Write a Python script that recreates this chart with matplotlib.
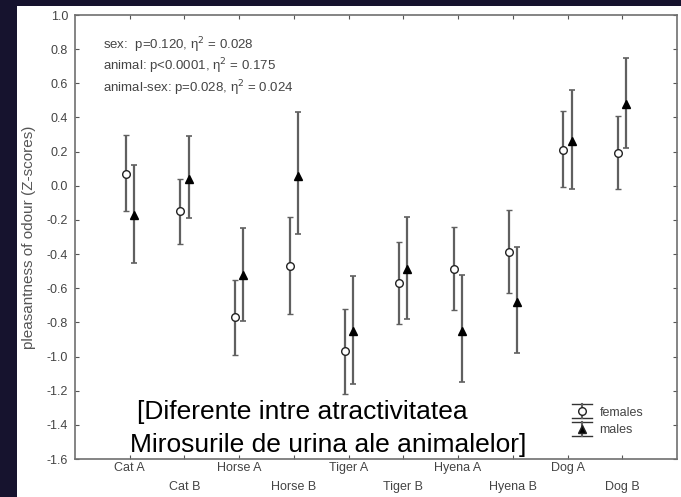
import numpy as np
import matplotlib.pyplot as plt
from matplotlib.lines import Line2D
from matplotlib.patches import Rectangle

plt.rcParams['font.family'] = ['Liberation Sans', 'DejaVu Sans']

# Data (means and error-bar ends)
animals = ['Cat A', 'Cat B', 'Horse A', 'Horse B', 'Tiger A',
           'Tiger B', 'Hyena A', 'Hyena B', 'Dog A', 'Dog B']
fem_mean = [0.07, -0.15, -0.77, -0.47, -0.97, -0.57, -0.49, -0.39, 0.21, 0.19]
fem_lo = [-0.15, -0.34, -0.99, -0.75, -1.22, -0.81, -0.73, -0.63, -0.01, -0.02]
fem_hi = [0.30, 0.04, -0.55, -0.18, -0.72, -0.33, -0.24, -0.14, 0.44, 0.41]
male_mean = [-0.17, 0.04, -0.52, 0.06, -0.85, -0.49, -0.85, -0.68, 0.26, 0.48]
male_lo = [-0.45, -0.19, -0.79, -0.28, -1.16, -0.78, -1.15, -0.98, -0.02, 0.22]
male_hi = [0.12, 0.29, -0.25, 0.43, -0.53, -0.18, -0.52, -0.36, 0.56, 0.75]

stats_lines = ['sex:  p=0.120, η$^2$ = 0.028',
               'animal: p<0.0001, η$^2$ = 0.175',
               'animal-sex: p=0.028, η$^2$ = 0.024']

bar_col = '#606060'
txt_col = '#444444'


class ErrHandler:
    # legend icon: caps at top and bottom, vertical bar, marker in middle
    def legend_artist(self, legend, orig_handle, fontsize, handlebox):
        x0, y0 = -handlebox.xdescent, -handlebox.ydescent
        w, h = handlebox.width, handlebox.height
        mk, fc = orig_handle
        t = handlebox.get_transform()
        arts = [
            Line2D([x0, x0 + w], [y0 + h + 2, y0 + h + 2], color='#333333', lw=1.0, transform=t),
            Line2D([x0, x0 + w], [y0 - 2, y0 - 2], color='#333333', lw=1.0, transform=t),
            Line2D([x0 + w / 2, x0 + w / 2], [y0 - 2, y0 + h + 2], color=bar_col, lw=1.5, transform=t),
            Line2D([x0 + w / 2], [y0 + h / 2], marker=mk, ms=5.5, mfc=fc, mec='#222222',
                   mew=1.0, ls='none', transform=t),
        ]
        for a in arts:
            handlebox.add_artist(a)
        return arts[-1]


fig = plt.figure(figsize=(6.81, 4.97), dpi=100)
fig.patch.set_facecolor('#16132e')
fig.patches.append(Rectangle((17 / 681, 0), 1, 1 - 6 / 497, transform=fig.transFigure,
                             facecolor='white', edgecolor='none', zorder=-1))

ax = fig.add_axes([75 / 681, 38 / 497, 602 / 681, 444 / 497])

x = np.arange(1, len(animals) + 1)
fm = np.array(fem_mean)
mm = np.array(male_mean)
ferr = [fm - np.array(fem_lo), np.array(fem_hi) - fm]
merr = [mm - np.array(male_lo), np.array(male_hi) - mm]

ax.errorbar(x - 0.075, fm, yerr=ferr, fmt='o', color=bar_col, ecolor=bar_col, elinewidth=1.6,
            capsize=2.5, capthick=1.2, mfc='white', mec='#222222', mew=1.0, ms=5.5, zorder=3)
ax.errorbar(x + 0.075, mm, yerr=merr, fmt='^', color=bar_col, ecolor=bar_col, elinewidth=1.6,
            capsize=2.5, capthick=1.2, mfc='black', mec='black', ms=5.5, zorder=3)

yt = np.round(np.arange(-1.6, 1.01, 0.2), 1) + 0.0
ax.set_xlim(0, 11)
ax.set_ylim(-1.6, 1.0)
ax.set_yticks(yt)
ax.set_yticklabels([f'{v:.1f}' if abs(v) > 1e-9 else '0.0' for v in yt])
ax.set_xticks(x[0::2], animals[0::2])
ax.set_xticks(x[1::2], animals[1::2], minor=True)
ax.tick_params(axis='both', which='both', direction='in', length=3, width=0.8,
               top=True, right=True, color='#555555', labelcolor=txt_col, labelsize=9)
ax.tick_params(axis='x', which='major', pad=2)
ax.tick_params(axis='x', which='minor', pad=16)
ax.tick_params(axis='y', pad=5)
for s in ax.spines.values():
    s.set_color('#707070')
    s.set_linewidth(1.2)

ax.set_ylabel('pleasantness of odour (Z-scores)', fontsize=11, color='#555555', labelpad=8)

for i, line in enumerate(stats_lines):
    ax.text(0.047, 0.932 - i * 0.048, line, transform=ax.transAxes, fontsize=9.5,
            color=txt_col, va='center', ha='left')

ax.text(1.13, -1.323, '[Diferente intre atractivitatea', fontsize=19, color='black',
        va='center', ha='left')
ax.text(1.0, -1.518, 'Mirosurile de urina ale animalelor]', fontsize=19, color='black',
        va='center', ha='left')

ax.legend([('o', 'white'), ('^', 'black')], ['females', 'males'],
          handler_map={tuple: ErrHandler()}, loc='lower left',
          bbox_to_anchor=(0.815, 0.037), frameon=False, fontsize=9,
          handlelength=1.6, handletextpad=0.6, labelspacing=0.45, borderpad=0,
          labelcolor=txt_col)

fig.savefig('out.png', dpi=100, facecolor=fig.get_facecolor())
